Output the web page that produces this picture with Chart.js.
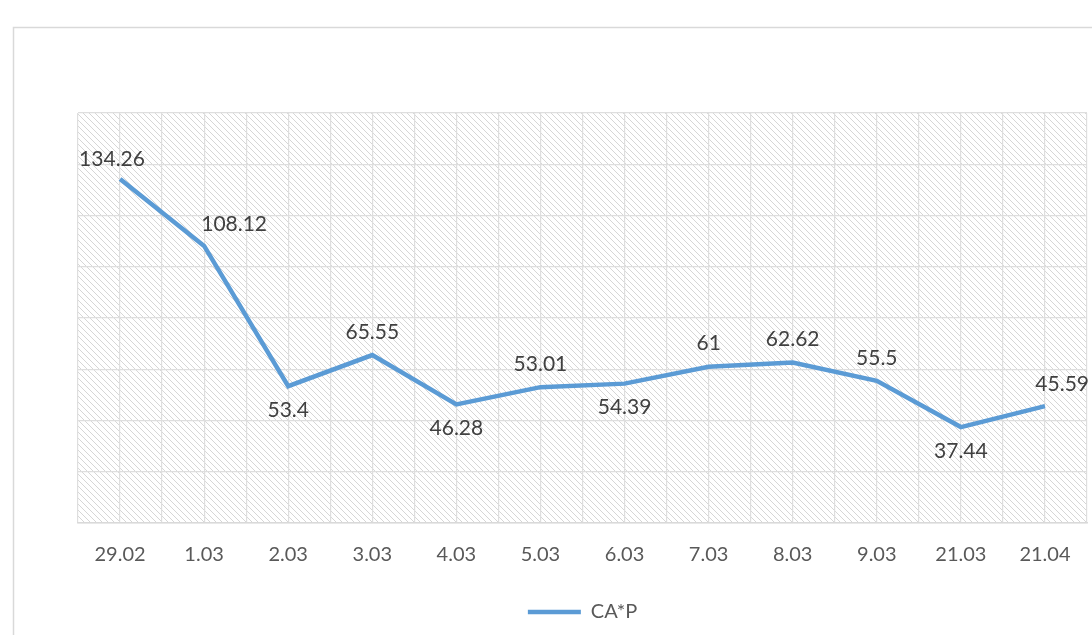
<!DOCTYPE html>
<html>
<head>
<meta charset="utf-8">
<script src="https://cdn.jsdelivr.net/npm/chart.js@4"></script>
<style>
  html, body { margin: 0; padding: 0; background: #fff; }
  #wrap { width: 1092px; height: 635px; position: relative; }
</style>
</head>
<body>
<div id="wrap"><canvas id="chart" width="1092" height="635"></canvas></div>
<script>
// values
const dates = ["29.02", "1.03", "2.03", "3.03", "4.03", "5.03", "6.03", "7.03", "8.03", "9.03", "21.03", "21.04"];
const caP = [134.26, 108.12, 53.4, 65.55, 46.28, 53.01, 54.39, 61, 62.62, 55.5, 37.44, 45.59];
// where each value label sits relative to its point (Excel-style placement)
const labelPlacement = ["aboveLeft", "aboveRight", "below", "above", "below", "above", "below", "above", "above", "above", "below", "aboveRight"];

const lineColor = "#5b9bd5";
const textColor = "#404040";
const axisTextColor = "#595959";
const gridColor = "#dedede";
const fontFamily = "Lato, 'Open Sans', sans-serif";

function makeHatch() {
  const c = document.createElement("canvas");
  c.width = 6;
  c.height = 6;
  const g = c.getContext("2d");
  g.fillStyle = "#ffffff";
  g.fillRect(0, 0, 6, 6);
  g.strokeStyle = "#d6d6d6";
  g.lineWidth = 1;
  g.beginPath();
  g.moveTo(-1, -1); g.lineTo(7, 7);
  g.moveTo(-7, -1); g.lineTo(1, 7);
  g.moveTo(5, -1); g.lineTo(13, 7);
  g.stroke();
  return g.createPattern(c, "repeat");
}

const frameAndHatch = {
  id: "frameAndHatch",
  beforeDraw(chart) {
    const { ctx, chartArea: a } = chart;
    ctx.save();
    ctx.strokeStyle = "#d9d9d9";
    ctx.lineWidth = 1.5;
    ctx.strokeRect(13.5, 27.5, 1200, 700);
    ctx.fillStyle = makeHatch();
    ctx.fillRect(a.left, a.top, a.right - a.left, a.bottom - a.top);
    ctx.restore();
  }
};

const valueLabels = {
  id: "valueLabels",
  afterDatasetsDraw(chart) {
    const { ctx, chartArea: a } = chart;
    const meta = chart.getDatasetMeta(0);
    ctx.save();
    ctx.font = "21px " + fontFamily;
    ctx.fillStyle = textColor;
    ctx.textAlign = "center";
    ctx.textBaseline = "middle";
    meta.data.forEach((pt, i) => {
      const text = String(chart.data.datasets[0].data[i]);
      const w = ctx.measureText(text).width;
      const place = labelPlacement[i];
      let x = pt.x, y = pt.y;
      if (place === "above") y -= 23;
      else if (place === "below") y += 24;
      else if (place === "aboveLeft") { x -= 8; y -= 20; }
      else if (place === "aboveRight") { x += 30; y -= 22; }
      x = Math.min(x, a.right + 2 - w / 2);
      ctx.fillText(text, x, y);
    });
    ctx.restore();
  }
};

new Chart(document.getElementById("chart"), {
  type: "line",
  data: {
    labels: dates,
    datasets: [{
      label: "CA*P",
      data: caP,
      borderColor: lineColor,
      backgroundColor: lineColor,
      borderWidth: 4.5,
      pointRadius: 0,
      tension: 0,
      fill: false
    }]
  },
  options: {
    responsive: false,
    animation: false,
    layout: { padding: { left: 78, top: 113, right: 5, bottom: 3 } },
    plugins: {
      tooltip: { enabled: false },
      legend: {
        position: "bottom",
        labels: {
          color: axisTextColor,
          font: { family: fontFamily, size: 20 },
          usePointStyle: true,
          pointStyle: "line",
          pointStyleWidth: 53,
          padding: 10
        }
      }
    },
    scales: {
      x: {
        offset: true,
        grid: { display: false },
        border: { display: true, color: "#d9d9d9", width: 1.5 },
        ticks: { color: axisTextColor, font: { family: fontFamily, size: 20 }, padding: 12, maxRotation: 0 },
        afterFit(scale) { scale.height = 69; }
      },
      xGrid: {
        type: "linear",
        position: "bottom",
        min: -0.5,
        max: dates.length - 0.5,
        ticks: { display: false, stepSize: 0.5 },
        grid: { color: gridColor, lineWidth: 1.2, drawTicks: false },
        border: { display: false },
        afterFit(scale) { scale.height = 0; }
      },
      y: {
        min: 0,
        max: 160,
        ticks: { display: false, stepSize: 20 },
        grid: { color: gridColor, lineWidth: 1.2, drawTicks: false },
        border: { display: false },
        afterFit(scale) { scale.width = 0; }
      }
    }
  },
  plugins: [frameAndHatch, valueLabels]
});
</script>
</body>
</html>
